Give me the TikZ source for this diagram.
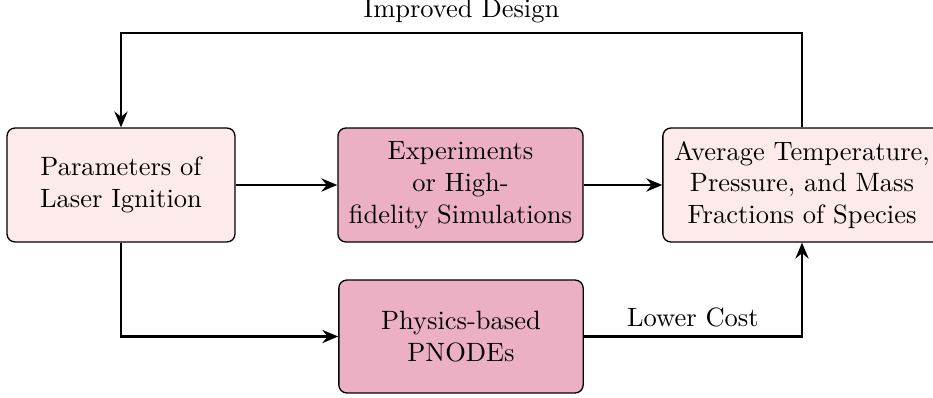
\documentclass[tikz,border=0pt]{standalone}
\usetikzlibrary{arrows.meta}
\definecolor{lightbox}{RGB}{253,234,234}
\definecolor{darkbox}{RGB}{235,176,196}
\begin{document}
\begin{tikzpicture}[x=0.3774pt,y=-0.3774pt,
  box/.style={draw, rounded corners=3pt, align=center, inner sep=0pt, line width=0.5pt},
  lightnode/.style={box, fill=lightbox},
  darknode/.style={box, fill=darkbox},
  conn/.style={line width=0.8pt, -{Stealth[length=6pt,width=5pt,inset=2pt]}},
  lbl/.style={font=\normalsize}]
\useasboundingbox (0,0) rectangle (933,398);
\node[lightnode, minimum width=86pt, minimum height=43pt] (par) at (121,185) {Parameters of\\Laser Ignition};
\node[darknode, minimum width=92.5pt, minimum height=43pt] (exp) at (460.5,185) {Experiments\\or High-\\fidelity Simulations};
\node[lightnode, minimum width=105pt, minimum height=43pt] (avg) at (802,185) {Average Temperature,\\Pressure, and Mass\\Fractions of Species};
\node[darknode, minimum width=92.2pt, minimum height=42.6pt] (pno) at (461,336.5) {Physics-based\\PNODEs};
\coordinate (tr) at (802,33);
\coordinate (tl) at (121,33);
\coordinate (bl) at (121,336.5);
\coordinate (br) at (802,336.5);
\draw[conn] (par) -- (exp);
\draw[conn] (exp) -- (avg);
\draw[conn] (avg.north) -- (tr) -- node[above, lbl] (lid) {Improved Design} (tl) -- (par.north);
\draw[conn] (par.south) -- (bl) -- (pno.west);
\draw[conn] (pno.east) -- node[above, lbl] (llc) {Lower Cost} (br) -- (avg.south);
\end{tikzpicture}
\end{document}
